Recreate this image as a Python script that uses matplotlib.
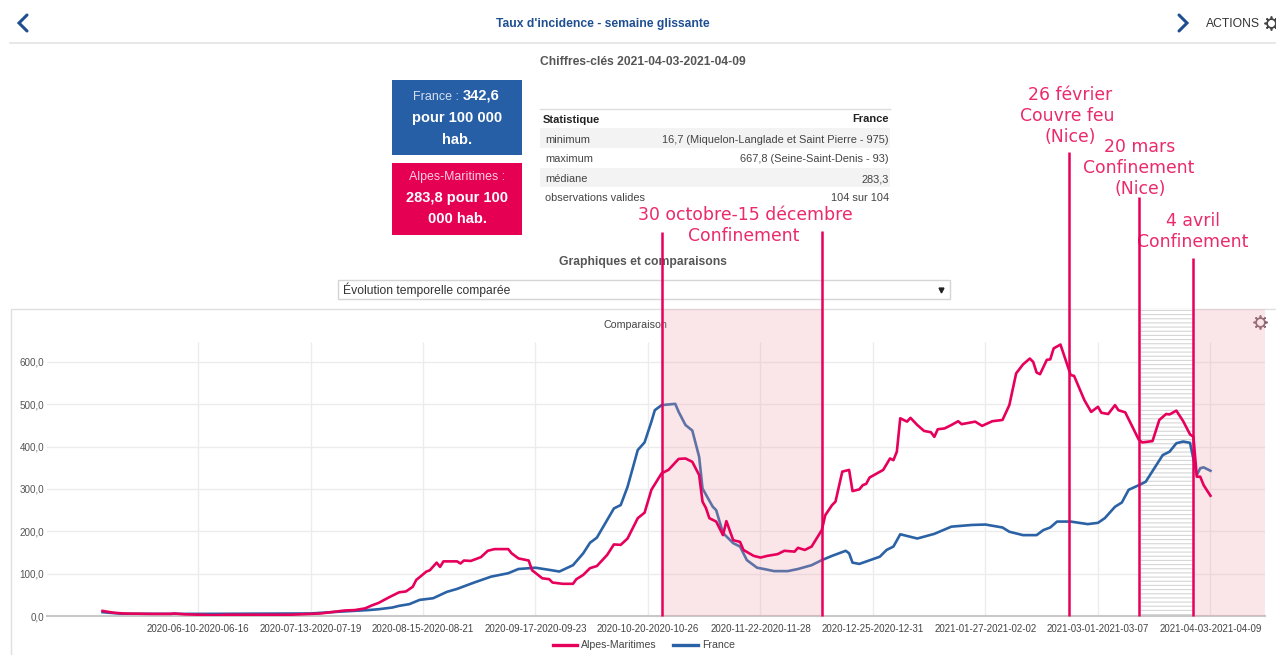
import matplotlib
matplotlib.use("Agg")
import matplotlib.pyplot as plt
from matplotlib.patches import Rectangle

plt.rcParams['font.family'] = ['Liberation Sans', 'DejaVu Sans']
plt.rcParams['hatch.linewidth'] = 0.8
plt.rcParams['hatch.color'] = '#d6d6d6'

# =========================
# DATA (days since 2020-05-13)
# =========================
alpes_days = [0, 3, 6, 14, 20, 21, 24, 29, 33, 36, 55, 58, 64, 68, 71, 74, 77, 79, 81,
              84, 87, 89, 91, 92, 95, 96, 98, 99, 100, 104, 105, 106, 108, 111, 113, 115,
              119, 120, 122, 125, 126, 129, 131, 132, 135, 138, 139, 141, 143, 145, 148,
              150, 152, 154, 157, 159, 161, 164, 166, 169, 171, 173, 175, 176, 177, 178,
              180, 182, 183, 185, 187, 188, 191, 193, 195, 198, 200, 203, 204, 206, 208,
              211, 212, 214, 215, 217, 219, 220, 222, 223, 224, 225, 229, 231, 232, 233,
              234, 236, 237, 239, 241, 243, 244, 245, 247, 249, 251, 252, 256, 258, 261,
              264, 266, 268, 270, 272, 273, 274, 275, 277, 278, 279, 281, 284, 285, 288,
              290, 292, 293, 295, 297, 298, 300, 304, 305, 308, 310, 312, 313, 315, 317,
              319, 320, 321, 322, 323, 325]
alpes_values = [12, 8, 6, 5, 5, 6, 4, 3, 2, 3, 3, 4, 6, 10, 13, 14, 18, 25, 31,
                44, 56, 58, 69, 85, 105, 108, 126, 116, 129, 129, 124, 131, 130, 139, 154, 158,
                158, 148, 136, 131, 108, 89, 87, 79, 76, 76, 87, 97, 113, 118, 144,
                169, 168, 183, 231, 244, 298, 337, 345, 371, 372, 364, 333, 270, 255, 231,
                223, 191, 224, 179, 175, 156, 142, 138, 142, 146, 154, 152, 161, 156, 164,
                203, 238, 262, 270, 341, 345, 295, 299, 309, 312, 327, 345, 372, 368, 388,
                467, 459, 468, 451, 437, 434, 423, 441, 443, 451, 460, 453, 459, 449, 460,
                463, 498, 573, 594, 608, 600, 575, 571, 605, 606, 632, 641, 569, 567, 510,
                482, 494, 480, 477, 498, 486, 481, 416, 410, 413, 463, 477, 476, 485, 460,
                429, 423, 329, 329, 309, 284]

france_days = [0, 6, 30, 61, 69, 78, 81, 85, 87, 90, 93, 97, 101, 104, 109, 114, 119, 122,
               127, 131, 134, 138, 141, 143, 145, 150, 152, 154, 157, 159, 161, 162, 164,
               168, 169, 171, 173, 175, 176, 179, 180, 182, 185, 187, 189, 192, 194, 197,
               201, 204, 208, 211, 214, 218, 219, 220, 222, 228, 230, 232, 234, 239, 244,
               249, 255, 259, 264, 266, 270, 274, 276, 278, 280, 284, 289, 292, 294, 297,
               299, 301, 304, 306, 311, 313, 315, 317, 319, 321, 322, 323, 325]
france_values = [9, 5, 5, 6, 10, 14, 16, 20, 24, 28, 38, 42, 57, 64, 79, 93, 101, 111,
                 114, 109, 105, 120, 148, 173, 185, 254, 262, 305, 392, 410, 459, 486, 498,
                 501, 482, 451, 438, 376, 301, 258, 250, 196, 172, 164, 132, 114, 111, 106,
                 106, 111, 120, 132, 142, 154, 148, 126, 123, 140, 156, 164, 193, 183, 194,
                 211, 215, 216, 209, 199, 191, 191, 203, 209, 223, 223, 217, 220, 231, 258,
                 268, 298, 309, 317, 380, 388, 408, 412, 409, 333, 349, 351, 343]

tick_days = [28, 61, 94, 127, 160, 193, 226, 259, 292, 325]
tick_labels = ['2020-06-10-2020-06-16', '2020-07-13-2020-07-19', '2020-08-15-2020-08-21',
               '2020-09-17-2020-09-23', '2020-10-20-2020-10-26', '2020-11-22-2020-11-28',
               '2020-12-25-2020-12-31', '2021-01-27-2021-02-02', '2021-03-01-2021-03-07',
               '2021-04-03-2021-04-09']
y_ticks = [0, 100, 200, 300, 400, 500, 600]
y_labels = ['0,0', '100,0', '200,0', '300,0', '400,0', '500,0', '600,0']

event_days = [164, 211, 283.5, 304, 320]
event_tops = [907, 909, 1096, 989, 845]

table_rows = [('minimum', '16,7 (Miquelon-Langlade et Saint Pierre - 975)'),
              ('maximum', '667,8 (Seine-Saint-Denis - 93)'),
              ('médiane', '283,3'),
              ('observations valides', '104 sur 104')]

# =========================
# COLOURS
# =========================
RED = '#e6005c'
BLUE = '#2b62a5'
NAVY = '#1f4f91'
GREY = '#555555'
BAND = '#ee9fac'

W, H = 1276, 655
fig = plt.figure(figsize=(W / 100, H / 100), dpi=100)

# =========================
# PAGE (pixel coordinates)
# =========================
page = fig.add_axes([0, 0, 1, 1], zorder=0)
page.set_xlim(0, W)
page.set_ylim(H, 0)
page.axis('off')


def label(x, y, s, ha='center', color=GREY, size=8.7, **kw):
    page.text(x, y + 1, s, ha=ha, va='center', color=color, fontsize=size, **kw)


def chevron(x, y, direction):
    page.plot([x - 4 * direction, x + 4 * direction, x - 4 * direction], [y - 8, y, y + 8],
              color=NAVY, lw=2.2, solid_capstyle='round', solid_joinstyle='miter')


def gear(x, y, color):
    page.plot([x], [y], 'o', ms=6, mfc='none', mec=color, mew=1.6)
    page.plot([x], [y], marker=(8, 2, 0), ms=10, color=color, mew=1.2, zorder=1)
    page.plot([x], [y], 'o', ms=4, color='white', zorder=2)


chevron(23, 23, -1)
chevron(1183, 23, 1)
label(603, 23, "Taux d'incidence - semaine glissante", color=NAVY, fontweight='bold')
label(1206, 23, 'ACTIONS', ha='left', color='#333333')
gear(1271, 23, '#444444')
page.plot([10, W], [43, 43], color='#e4e4e4', lw=1.2)

label(643, 61, 'Chiffres-clés 2021-04-03-2021-04-09', size=8.75, fontweight='bold')

# Key figure boxes
page.add_patch(Rectangle((392, 80), 130, 75, fc='#265fa5', ec='none'))
page.add_patch(Rectangle((392, 163), 130, 72, fc='#e60054', ec='none'))
label(459, 96, 'France :', ha='right', color='#d5e0ee', size=9)
label(463, 95, '342,6', ha='left', color='white', size=10.5, fontweight='bold')
label(457, 117, 'pour 100 000', color='white', size=10.5, fontweight='bold')
label(457, 139, 'hab.', color='white', size=10.5, fontweight='bold')
label(457, 176, 'Alpes-Maritimes :', color='#fbd0de', size=8.9)
label(457, 197, '283,8 pour 100', color='white', size=10.5, fontweight='bold')
label(457, 218, '000 hab.', color='white', size=10.5, fontweight='bold')

# Statistics table
page.plot([540, 890], [108.5, 108.5], color='#dddddd', lw=1)
page.add_patch(Rectangle((540, 128), 350, 20, fc='#f3f3f3', ec='none'))
page.add_patch(Rectangle((540, 168), 350, 19, fc='#f3f3f3', ec='none'))
label(543, 119, 'Statistique', ha='left', color='#222222', size=8, fontweight='bold')
label(889, 118, 'France', ha='right', color='#222222', size=8, fontweight='bold')
for row_y, (name, value) in zip([139, 158, 178, 197], table_rows):
    label(545, row_y, name, ha='left', color='#444444', size=7.9)
    label(889, row_y, value, ha='right', color='#444444', size=7.9)

label(643, 261, 'Graphiques et comparaisons', fontweight='bold')

# Select box
page.add_patch(Rectangle((338, 280), 612, 19, fc='white', ec='#d5d5d5', lw=1))
label(343, 289, 'Évolution temporelle comparée', ha='left', color='#333333')
page.plot([941], [290], marker='v', ms=3.5, color='#222222')

# Chart frame
page.plot([11, 11, W], [H, 309, 309], color='#e0e0e0', lw=1)
label(635, 324, 'Comparaison', color='#444444', size=7.7)

# Hand written annotations
notes = [(745, 214, '30 octobre-15 décembre'), (744, 235, 'Confinement'),
         (1070, 94, '26 février'), (1067, 115, 'Couvre feu'), (1070, 136, '(Nice)'),
         (1140, 146, '20 mars'), (1139, 167, 'Confinement'), (1140, 188, '(Nice)'),
         (1193, 220, '4 avril'), (1193, 241, 'Confinement')]
for nx, ny, note in notes:
    label(nx, ny, note, color='#ea2a6c', size=12.4, family='DejaVu Sans')

# =========================
# CHART
# =========================
ax = fig.add_axes([47 / W, (H - 616) / H, 1218 / W, 307 / H], zorder=1)
ax.patch.set_alpha(0)
ax.set_xlim(-16.3, 341)
ax.set_ylim(0, 725)
for spine in ax.spines.values():
    spine.set_visible(False)
ax.spines['bottom'].set_visible(True)
ax.spines['bottom'].set_color('#c8c8c8')
ax.spines['bottom'].set_linewidth(1.5)

for y in y_ticks[1:]:
    ax.axhline(y, color='#ececec', lw=1, zorder=1)
ax.vlines(tick_days, 0, 647, color='#ececec', lw=1, zorder=1)

ax.axvspan(304.5, 320, fc='white', ec='#d6d6d6', lw=0, hatch='----', zorder=1.5)

# the band sits over the blue line (it turns purple) but under the red one
ax.plot(france_days, france_values, color=BLUE, lw=1.9, zorder=2, label='France')
ax.axvspan(164, 211, fc=BAND, alpha=0.27, lw=0, zorder=3)
ax.axvspan(320, 341, fc=BAND, alpha=0.27, lw=0, zorder=3)
ax.plot(alpes_days, alpes_values, color=RED, lw=1.9, zorder=4, label='Alpes-Maritimes')

ax.vlines(event_days, 0, event_tops, color=RED, lw=1.8, zorder=5, clip_on=False)

ax.set_xticks(tick_days)
ax.set_xticklabels(tick_labels)
ax.set_yticks(y_ticks)
ax.set_yticklabels(y_labels)
ax.tick_params(axis='x', length=0, pad=6, labelsize=7, labelcolor='#444444')
ax.tick_params(axis='y', length=0, pad=2, labelsize=7.1, labelcolor='#555555')

# Legend
page.plot([553, 577], [645, 645], color=RED, lw=2.4)
label(581, 644.5, 'Alpes-Maritimes', ha='left', color='#444444', size=7.6)
page.plot([673, 698], [645, 645], color=BLUE, lw=2.4)
label(702, 644.5, 'France', ha='left', color='#444444', size=7.6)

# Chart settings icon
gear(1260, 322, '#7a5c6a')

fig.savefig('out.png', dpi=100)
